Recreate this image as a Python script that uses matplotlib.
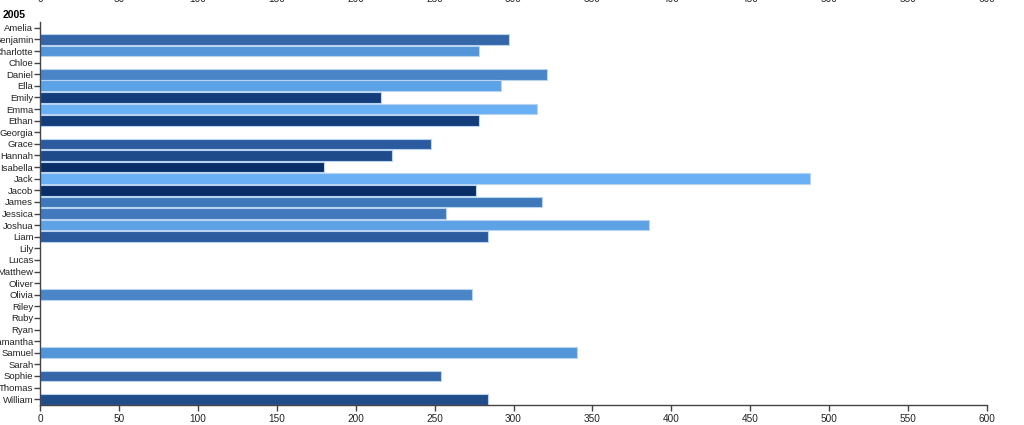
import matplotlib.pyplot as plt

plt.rcParams['font.family'] = ['Liberation Sans', 'DejaVu Sans']

year = '2005'
names = ['Amelia', 'Benjamin', 'Charlotte', 'Chloe', 'Daniel', 'Ella', 'Emily', 'Emma',
         'Ethan', 'Georgia', 'Grace', 'Hannah', 'Isabella', 'Jack', 'Jacob', 'James',
         'Jessica', 'Joshua', 'Liam', 'Lily', 'Lucas', 'Matthew', 'Oliver', 'Olivia',
         'Riley', 'Ruby', 'Ryan', 'Samantha', 'Samuel', 'Sarah', 'Sophie', 'Thomas', 'William']
counts = [0, 297, 278, 0, 321, 292, 216, 315,
          278, 0, 248, 223, 180, 488, 276, 318,
          257, 386, 284, 0, 0, 0, 0, 274,
          0, 0, 0, 0, 340, 0, 254, 0, 284]
colors = ['#ffffff', '#3567a8', '#5295d8', '#ffffff', '#4a85c8', '#5ca2e6', '#123d7a', '#69b0f5',
          '#123d7a', '#ffffff', '#2b5b9e', '#1f4b8a', '#0a2e68', '#69b0f5', '#0a2e68', '#3d78ba',
          '#4179bc', '#5ea2e6', '#2b5b9e', '#ffffff', '#ffffff', '#ffffff', '#ffffff', '#4a85c8',
          '#ffffff', '#ffffff', '#ffffff', '#ffffff', '#5295d8', '#ffffff', '#3567a8', '#ffffff', '#204c8a']
xticks = [0, 50, 100, 150, 200, 250, 300, 350, 400, 450, 500, 550, 600]

W, H = 1024, 425
fig = plt.figure(figsize=(W / 100, H / 100), dpi=100)
ax = fig.add_axes([40 / W, 20 / H, 947 / W, 383 / H])

y = list(range(len(names)))
for yi, c, col in zip(y, counts, colors):
    if c > 0:
        ax.barh(yi, c, height=0.92, color=col, edgecolor='#b8d4f0', linewidth=0.8)

ax.set_xlim(0, 600)
ax.set_ylim(len(names) - 0.5, -0.5)
ax.set_yticks(y)
ax.set_yticklabels(names)
ax.set_xticks(xticks)
ax.set_xticklabels([str(t) for t in xticks])

for s in ['top', 'right']:
    ax.spines[s].set_visible(False)
for s in ['left', 'bottom']:
    ax.spines[s].set_color('#444444')
    ax.spines[s].set_linewidth(1)

ax.tick_params(axis='x', bottom=True, top=False, labeltop=False,
               length=4.3, width=1, color='#444444', pad=2.2, labelsize=7.2, labelcolor='#222222')
ax.tick_params(axis='y', length=4.3, width=1, color='#444444', pad=0.5,
               labelsize=6.8, labelcolor='#222222')

# top labels sit mostly above the figure edge, as in the reference
top_ax = ax.secondary_xaxis('top')
top_ax.set_xticks(xticks)
top_ax.set_xticklabels([str(t) for t in xticks])
top_ax.spines['top'].set_visible(False)
top_ax.tick_params(length=0, pad=12.8, labelsize=7.2, labelcolor='#222222')

fig.text(3 / W, 1 - 14.5 / H, year, fontsize=7.5, fontweight='bold', va='center', ha='left')

fig.savefig('out.png', dpi=100)
